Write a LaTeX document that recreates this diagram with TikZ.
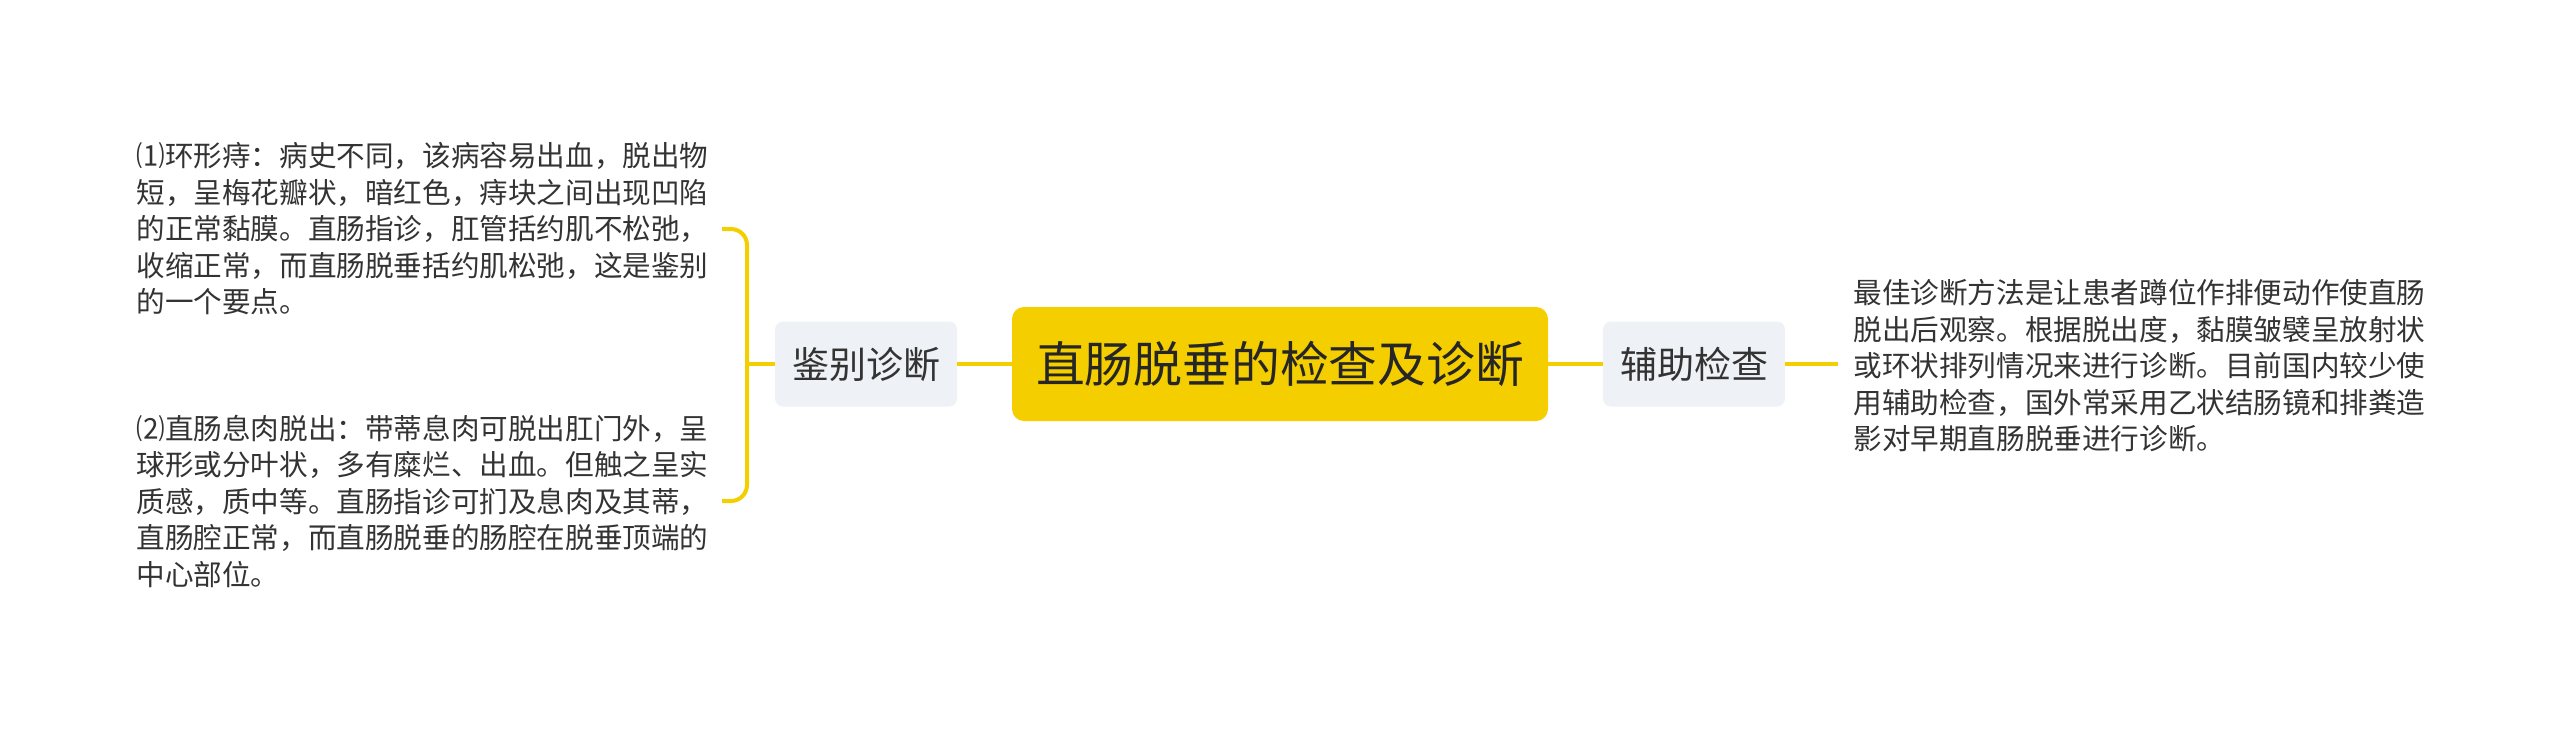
\documentclass[tikz,border=0pt]{standalone}
\usepackage{fontspec}
\setmainfont{Noto Sans CJK SC}
\usepackage{tikz}
\usetikzlibrary{positioning}
\definecolor{mapyellow}{HTML}{F5CE00}
\definecolor{boxgray}{HTML}{EEF1F5}
\definecolor{inkgray}{HTML}{333333}
\tikzset{every node/.style={text=inkgray,inner sep=0pt},
  rootbox/.style={fill=mapyellow,rounded corners=6pt,minimum width=268pt,
    minimum height=57pt,font=\fontsize{24.4pt}{28pt}\selectfont,text=black!85},
  branchbox/.style={fill=boxgray,rounded corners=4pt,minimum width=91pt,
    minimum height=42.5pt,font=\fontsize{18.5pt}{22pt}\selectfont},
  leaftext/.style={align=left,anchor=west,font=\fontsize{14.3pt}{18.25pt}\selectfont},
  link/.style={draw=mapyellow,line width=2pt}}

\begin{document}
\begin{tikzpicture}[x=0.5pt,y=-0.5pt]
\useasboundingbox (0,0) rectangle (2560,730);
% centre and the two branches
\node[rootbox] (root) at (1280,364) {直肠脱垂的检查及诊断};
\node[branchbox] (jianbie) at (866,364) {鉴别诊断};
\node[branchbox] (fuzhu) at (1694,364) {辅助检查};
% leaves
\node[leaftext] (diff1) at (136,229) {⑴环形痔：病史不同，该病容易出血，脱出物\\
短，呈梅花瓣状，暗红色，痔块之间出现凹陷\\
的正常黏膜。直肠指诊，肛管括约肌不松弛，\\
收缩正常，而直肠脱垂括约肌松弛，这是鉴别\\
的一个要点。};
\node[leaftext] (diff2) at (136,501) {⑵直肠息肉脱出：带蒂息肉可脱出肛门外，呈\\
球形或分叶状，多有糜烂、出血。但触之呈实\\
质感，质中等。直肠指诊可扪及息肉及其蒂，\\
直肠腔正常，而直肠脱垂的肠腔在脱垂顶端的\\
中心部位。};
\node[leaftext] (aux) at (1853,366) {最佳诊断方法是让患者蹲位作排便动作使直肠\\
脱出后观察。根据脱出度，黏膜皱襞呈放射状\\
或环状排列情况来进行诊断。目前国内较少使\\
用辅助检查，国外常采用乙状结肠镜和排粪造\\
影对早期直肠脱垂进行诊断。};
\coordinate (jspine) at (747,364);
\coordinate (jtop) at (722,229);
\coordinate (jbot) at (722,501);
\coordinate (fend) at (1838,364);
% connectors
\draw[link] (root.west) -- (jianbie.east);
\draw[link] (root.east) -- (fuzhu.west);
\draw[link] (jianbie.west) -- (jspine);
\draw[link,rounded corners=8pt] (jtop) -| (jspine) |- (jbot);
\draw[link] (fuzhu.east) -- (fend);
\end{tikzpicture}
\end{document}
